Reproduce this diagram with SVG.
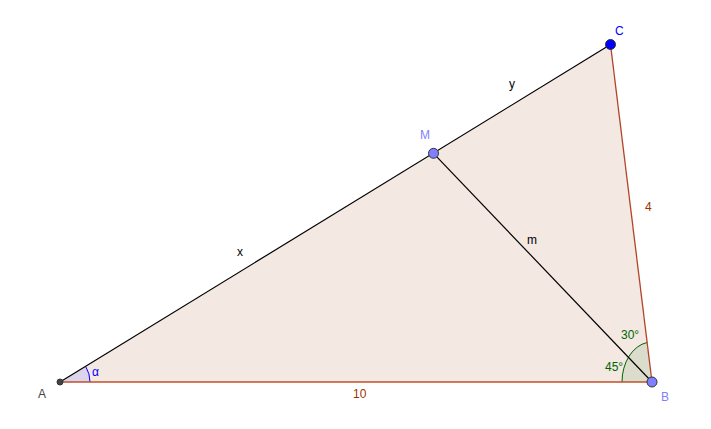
<svg xmlns="http://www.w3.org/2000/svg" width="711" height="429" viewBox="0 0 711 429">
<style>
text{font-family:"Liberation Sans",Arial,sans-serif;font-size:12px}
.blk{fill:#000}
.brn{fill:#993300}
.grn{fill:#006400}
.pt{stroke:#333;stroke-width:1}
</style>
<rect width="711" height="429" fill="#fff"/>
<g id="triangle">
<polygon points="60,382 652,382 610.5,44.5" fill="#f3e8e2" stroke="none"/>
</g>
<g id="angles">
<path d="M60,382 L90,382 A30,30 0 0 0 85.6,366.3 Z" fill="#dcd4ea" stroke="none"/>
<path d="M90,382 A30,30 0 0 0 85.6,366.3" fill="none" stroke="#0000ff" stroke-width="1"/>
<path d="M652,382 L622,382 A30,40 0 0 1 647.1,342.5 Z" fill="#dcdccc" stroke="none"/>
<path d="M622,382 A30,40 0 0 1 647.1,342.5" fill="none" stroke="#006400" stroke-width="1"/>
</g>
<g id="connectors">
<line x1="60" y1="382" x2="652" y2="382" stroke="#c0502a" stroke-width="1.3"/>
<line x1="652" y1="382" x2="610.5" y2="44.5" stroke="#b0442a" stroke-width="1.3"/>
<line x1="60" y1="382" x2="610.5" y2="44.5" stroke="#000" stroke-width="1.2"/>
<line x1="433.5" y1="153.3" x2="652" y2="382" stroke="#000" stroke-width="1.2"/>
</g>
<g id="labels">
<text class="blk" x="509" y="88">y</text>
<text class="blk" x="237" y="256">x</text>
<text class="blk" x="527" y="244">m</text>
<text class="brn" x="645" y="211">4</text>
<text class="brn" x="353" y="398">10</text>
<text class="grn" x="621" y="339">30°</text>
<text class="grn" x="605" y="371">45°</text>
<text x="92" y="376" fill="#0000ff">α</text>
</g>
<g id="A">
<circle class="pt" cx="60" cy="382" r="3" fill="#444"/>
<text x="38" y="398" fill="#444">A</text>
</g>
<g id="B">
<circle class="pt" cx="652" cy="382" r="5" fill="#7f7fff"/>
<text x="661" y="401" fill="#7f7fff">B</text>
</g>
<g id="C">
<circle class="pt" cx="610.5" cy="44.5" r="5" fill="#0000ff"/>
<text x="615" y="35" fill="#0000ff">C</text>
</g>
<g id="M">
<circle class="pt" cx="433.5" cy="153.3" r="5" fill="#7f7fff"/>
<text x="420" y="139" fill="#7f7fff">M</text>
</g>
</svg>
